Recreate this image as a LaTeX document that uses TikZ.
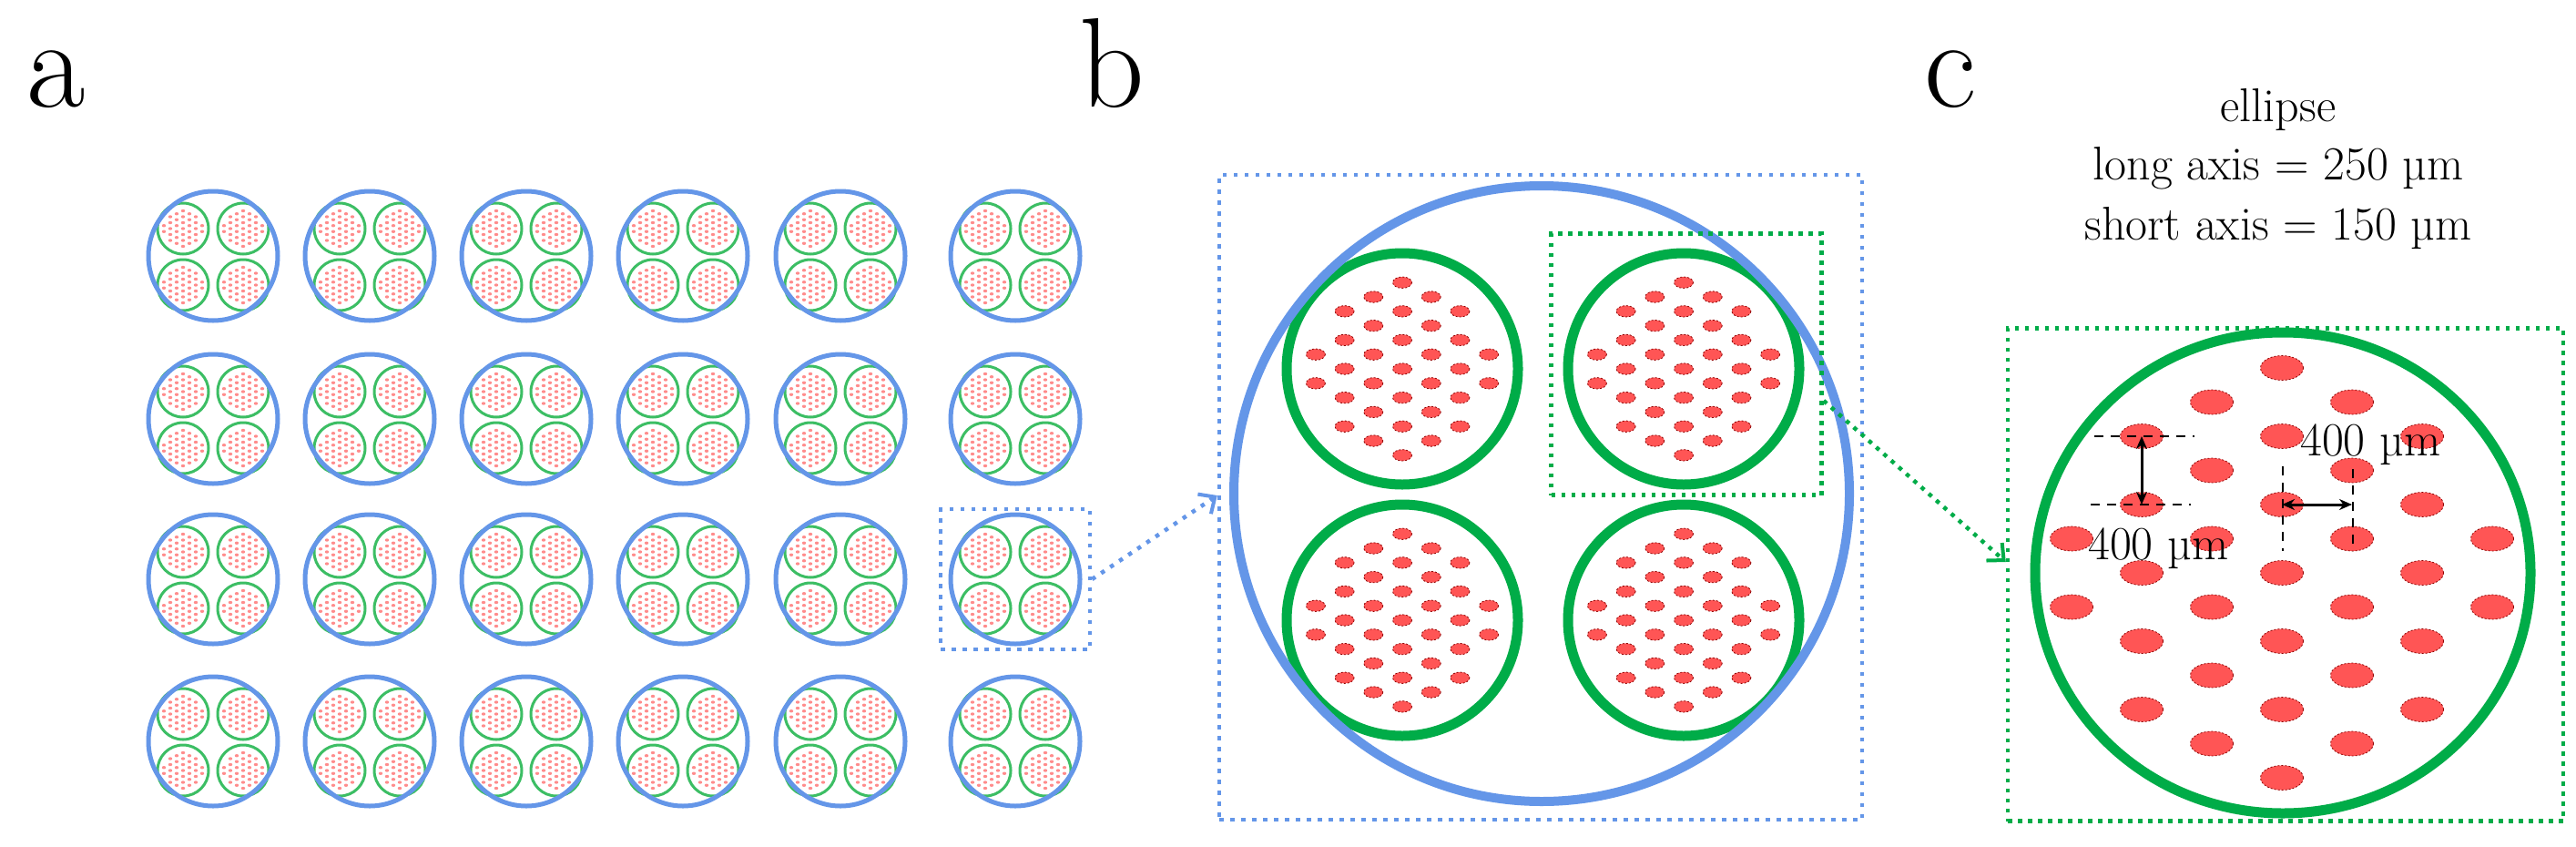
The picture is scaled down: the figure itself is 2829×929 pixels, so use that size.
\documentclass[tikz,border=0pt]{standalone}
\usepackage{fontspec}
\usetikzlibrary{arrows.meta}
\definecolor{cblue}{RGB}{100,150,232}
\definecolor{cgreen}{RGB}{0,172,72}
\definecolor{agreen}{RGB}{60,190,100}
\definecolor{cred}{RGB}{255,85,85}
\definecolor{ared}{RGB}{255,140,140}
\def\dotlist{0/-3,0/-2,0/-1,0/0,0/1,0/2,0/3,1/-2.5,1/-1.5,1/-0.5,1/0.5,1/1.5,1/2.5,-1/-2.5,-1/-1.5,-1/-0.5,-1/0.5,-1/1.5,-1/2.5,2/-2,2/-1,2/0,2/1,2/2,-2/-2,-2/-1,-2/0,-2/1,-2/2,3/-0.5,3/0.5,-3/-0.5,-3/0.5}
% #1 cx, #2 cy, #3 sx, #4 sy, #5 rx, #6 ry, #7 style
\newcommand\dotpat[7]{\foreach \i/\j in \dotlist {\fill[#7] ({#1+\i*#3},{#2+\j*#4}) ellipse[x radius=#5,y radius=#6];}}
\newcommand\acell[2]{%
 \begin{scope}[shift={(#1,#2)}]
  \foreach \gx/\gy in {-33/-30,33/-30,-33/32,33/32}{
   \dotpat{\gx}{\gy}{7}{6.5}{2.2}{1.7}{ared}
   \draw[agreen,line width=3] (\gx,\gy) circle[radius=28];}
  \draw[cblue,line width=5] (0,0) circle[radius=71];
 \end{scope}}
\tikzset{
 bdot/.style={cblue,line width=4.5,dash pattern=on 4.5 off 7.5},
 gdot/.style={cgreen,line width=4.5,dash pattern=on 4.5 off 6.5},
 dimline/.style={black,line width=2.5,dash pattern=on 10 off 8},
 dimarrow/.style={black,line width=3,{Stealth[length=14pt,width=12pt]}-{Stealth[length=14pt,width=12pt]}},
 bigdot/.style={cred,draw=red!55!black,line width=0.8,dash pattern=on 2 off 2},
 lab/.style={font=\rmfamily\fontsize{140}{140}\selectfont,anchor=base west,inner sep=0},
 txt/.style={font=\rmfamily\fontsize{52}{65}\selectfont,inner sep=0},
}
\begin{document}
\begin{tikzpicture}[x=1pt,y=-1pt]
\useasboundingbox[fill=white] (0,0) rectangle (2829,929);
% labels
\node[lab] (la) at (29,117) {a};
\node[lab] (lb) at (1185,117) {b};
\node[lab] (lc) at (2113,117) {c};
% panel a
\foreach \x in {234,406,578,750,923,1115}
 \foreach \y in {281,460,636,814} {\acell{\x}{\y}}
\node[bdot,draw,minimum width=164pt,minimum height=154pt,inner sep=0] (boxa) at (1115,636) {};
% panel b
\node[bdot,draw,minimum width=706pt,minimum height=708pt,inner sep=0] (boxb) at (1692,546) {};
\foreach \gx/\gy in {1540/405,1849/405,1540/681,1849/681}{
 \dotpat{\gx}{\gy}{31.7}{31.6}{10.5}{6.2}{bigdot}
 \draw[cgreen,line width=11] (\gx,\gy) circle[radius=127];}
\draw[cblue,line width=10] (1693,542) circle[radius=338];
\node[gdot,draw,minimum width=297pt,minimum height=287pt,inner sep=0] (gbox) at (1852,400) {};
% panel c
\node[gdot,draw,minimum width=610pt,minimum height=541pt,inner sep=0] (boxc) at (2510,631) {};
\dotpat{2506}{629}{77}{75}{23.5}{13.5}{bigdot}
\draw[cgreen,line width=11] (2507,629) circle[x radius=272,y radius=264];
\node[txt,anchor=base] (t1) at (2502,133) {ellipse};
\node[txt,anchor=base] (t2) at (2502,197) {long axis = 250 µm};
\node[txt,anchor=base] (t3) at (2502,263) {short axis = 150 µm};
% dimensions
\coordinate (d1) at (2352,479);
\coordinate (d2) at (2352,554);
\coordinate (h1) at (2506,554);
\coordinate (h2) at (2583,554);
\draw[dimline] (2300,479) -- (2410,479);
\draw[dimline] (2296,554) -- (2406,554);
\draw[dimarrow] (d1) -- (d2);
\draw[dimline] (2507,512) -- (2507,605);
\draw[dimline] (2584,515) -- (2584,605);
\draw[dimarrow] (h1) -- (h2);
\node[txt,anchor=base west] (n1) at (2526,500) {400 µm};
\node[txt,anchor=base west] (n2) at (2293,614) {400 µm};
% connectors
\draw[bdot,-{Straight Barb[length=14pt,width=26pt,line width=4pt]}] (boxa.east) -- ([yshift=2pt]boxb.west);
\draw[gdot,-{Straight Barb[length=14pt,width=26pt,line width=4pt]}] ([yshift=-40pt]gbox.east) -- ([yshift=14pt]boxc.west);
\end{tikzpicture}
\end{document}
